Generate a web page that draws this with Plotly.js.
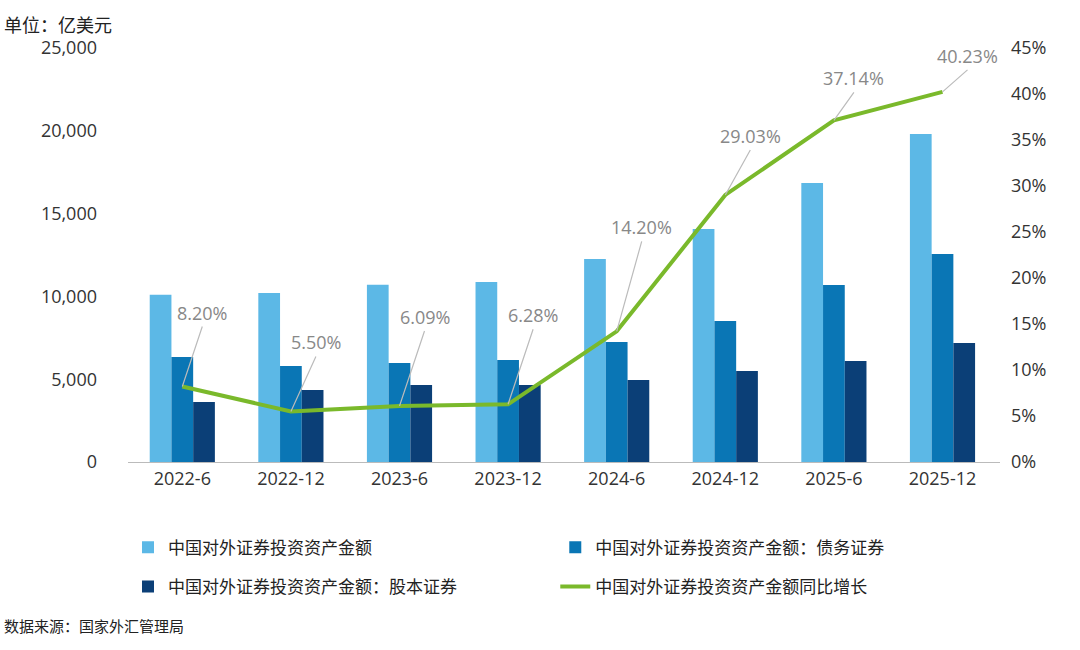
<!DOCTYPE html>
<html>
<head>
<meta charset="utf-8">
<script src="https://cdn.plot.ly/plotly-3.0.1.min.js"></script>
<style>body{margin:0;background:#fff}#chart{width:1080px;height:650px}</style>
</head>
<body>
<div id="chart"></div>
<script>
const periods = ["2022-6","2022-12","2023-6","2023-12","2024-6","2024-12","2025-6","2025-12"];
const totalAssets = [10100,10200,10700,10870,12260,14070,16850,19800];
const bondAssets = [6340,5800,5980,6160,7250,8510,10690,12560];
const equityAssets = [3620,4350,4650,4650,4950,5500,6100,7190];
const yoyGrowth = [8.20,5.50,6.09,6.28,14.20,29.03,37.14,40.23];
const labelOffsets = [[20,-60],[25,-55],[25,-75],[25,-75],[25,-90],[25,-45],[20,-28],[25,-22]];

const font = "Open Sans, Noto Sans CJK SC, sans-serif";
const traces = [
  { name:"中国对外证券投资资产金额", x:periods, y:totalAssets, type:"bar", marker:{color:"#5cb8e6"},
    legend:"legend", legendgroup:"a" },
  { name:"中国对外证券投资资产金额：债务证券", x:periods, y:bondAssets, type:"bar", marker:{color:"#0a76b5"},
    legend:"legend2", legendgroup:"b" },
  { name:"中国对外证券投资资产金额：股本证券", x:periods, y:equityAssets, type:"bar", marker:{color:"#0b3f77"},
    legend:"legend", legendgroup:"c" },
  { name:"中国对外证券投资资产金额同比增长", x:periods, y:yoyGrowth, type:"scatter", mode:"lines",
    yaxis:"y2", line:{color:"#7ab92b", width:4}, legend:"legend2", legendgroup:"d" }
];

const annotations = periods.map((p, i) => ({
  x:p, y:yoyGrowth[i], xref:"x", yref:"y2", text:yoyGrowth[i].toFixed(2) + "%",
  showarrow:true, arrowhead:0, arrowcolor:"#bbbbbb", arrowwidth:1.2,
  ax:labelOffsets[i][0], ay:labelOffsets[i][1], yanchor:"bottom",
  font:{size:18, color:"#888888", family:font}
}));
annotations.push(
  { text:"单位：亿美元", xref:"paper", yref:"paper", x:-0.145, y:1.09, xanchor:"left", showarrow:false,
    font:{size:18, color:"#222", family:font} },
  { text:"数据来源：国家外汇管理局", xref:"paper", yref:"paper", x:-0.145, y:-0.425, xanchor:"left", showarrow:false,
    font:{size:15, color:"#222", family:font} }
);

const legendBase = {
  orientation:"v", yref:"container", y:0.185, yanchor:"top", xanchor:"left",
  traceorder:"grouped", tracegroupgap:14, font:{size:17, color:"#222", family:font},
  bgcolor:"rgba(0,0,0,0)"
};

const layout = {
  width:1080, height:650,
  margin:{l:128, r:80, t:48, b:188, autoexpand:false},
  paper_bgcolor:"#fff", plot_bgcolor:"#fff",
  barmode:"group", bargap:0.4, bargroupgap:0,
  font:{family:font, color:"#333"},
  xaxis:{ type:"category", showline:true, linecolor:"#bbbbbb", linewidth:1, ticks:"",
    tickfont:{size:18, color:"#333"} },
  yaxis:{ range:[0,25000], dtick:5000, tickformat:",d", showgrid:false, zeroline:false,
    tickfont:{size:18, color:"#333"}, ticklabelstandoff:30 },
  yaxis2:{ overlaying:"y", side:"right", range:[0,45], dtick:5, ticksuffix:"%", showgrid:false, zeroline:false,
    tickfont:{size:18, color:"#333"}, ticklabelstandoff:10 },
  legend:{ ...legendBase, x:0 },
  legend2:{ ...legendBase, x:0.49 },
  showlegend:true,
  annotations
};

Plotly.newPlot("chart", traces, layout, {displayModeBar:false, staticPlot:true});
</script>
</body>
</html>
